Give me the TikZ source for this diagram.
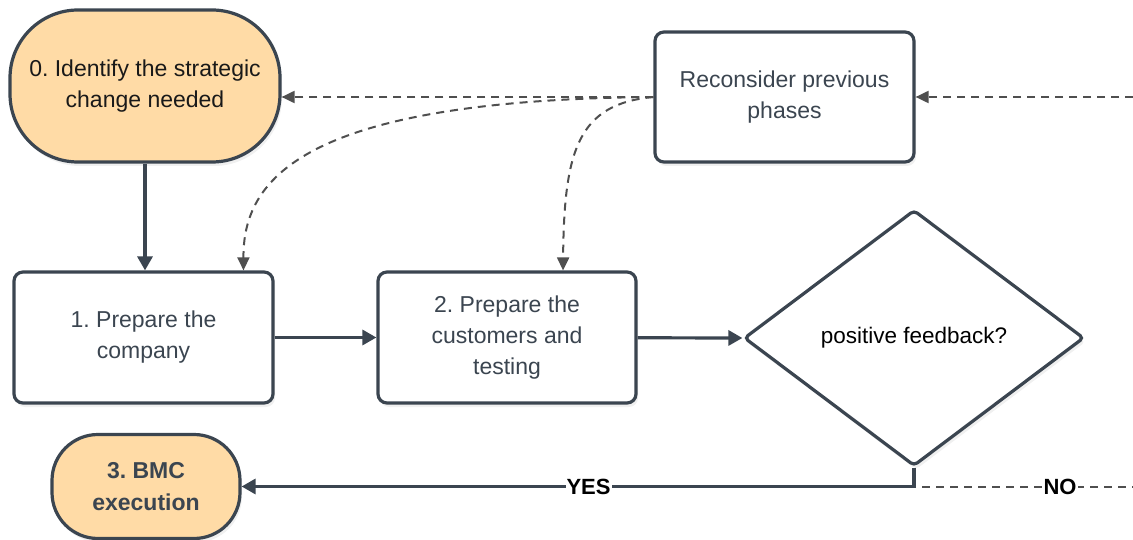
\documentclass[tikz,border=0pt]{standalone}
\usepackage{fontspec}
\setmainfont{Liberation Sans}
\usetikzlibrary{arrows.meta,shapes.geometric,shadows}
\definecolor{edgec}{HTML}{3B4550}
\definecolor{peach}{HTML}{FFDBA6}
\definecolor{dashc}{HTML}{4F4F4F}
\definecolor{txtc}{HTML}{3B4550}
\begin{document}
\begin{tikzpicture}[x=1pt,y=-1pt,
  base/.style={draw=edgec, line width=3.2pt, align=center, inner sep=0pt,
    font=\fontsize{23}{31}\selectfont,
    drop shadow={opacity=0.12, shadow xshift=2pt, shadow yshift=-4pt}},
  procbox/.style={base, fill=white, text=txtc, rounded corners=9pt},
  termbox/.style={base, fill=peach, text=black!90},
  decbox/.style={base, diamond, fill=white, text=black, rounded corners=4pt,
    minimum width=340pt, minimum height=256pt, aspect=1.328,
    font=\fontsize{22.5}{30}\selectfont},
  conn/.style={draw=edgec, line width=3.2pt, -{Triangle[length=14pt,width=15pt]}},
  dconn/.style={draw=dashc, line width=2pt, dash pattern=on 8pt off 6pt,
    -{Triangle[length=13pt,width=12pt]}},
  lbl/.style={font=\bfseries\fontsize{22}{24}\selectfont, text=black, fill=white, inner sep=1pt}
]
\useasboundingbox (0,0) rectangle (1133,540);

\node[termbox, minimum width=270pt, minimum height=152pt, rounded corners=68pt] (n0) at (145,86)
  {0.\ Identify the strategic\\change needed};
\node[procbox, minimum width=259pt, minimum height=130pt] (rc) at (784.5,97)
  {Reconsider previous\\phases};
\node[procbox, minimum width=259pt, minimum height=131pt] (n1) at (143.5,337.5)
  {1.\ Prepare the\\company};
\node[procbox, minimum width=258pt, minimum height=131pt] (n2) at (507,337.5)
  {2.\ Prepare the\\customers and\\testing};
\node[decbox] (dia) at (914,338) {positive feedback?};
\node[termbox, font=\bfseries\fontsize{23}{32}\selectfont, text=txtc,
  minimum width=188pt, minimum height=104pt, rounded corners=46pt] (n3) at (146,486.5)
  {3.\ BMC\\execution};

\coordinate (inR) at (1133,97);
\coordinate (noS) at (922,487);
\coordinate (noE) at (1133,487);

\draw[conn] (n0.south) -- (n0.south |- n1.north);
\draw[conn] (n1) -- (n2);
\draw[conn] (n2) -- (dia.west);
\draw[conn] (dia.south) |- node[lbl, pos=0.742] {YES} (n3.east);
\draw[draw=dashc, line width=2pt, dash pattern=on 8pt off 6pt] (noS) -- node[lbl, pos=0.654] {NO} (noE);

\draw[dconn] (inR) -- (rc.east);
\draw[dconn] (rc.west) -- (rc.west -| n0.east);
\draw[dconn] (rc.west) .. controls (300,100) and (243,180) .. ([xshift=100pt]n1.north);
\draw[dconn] (rc.west) .. controls (578,104) and (564,150) .. ([xshift=56pt]n2.north);
\end{tikzpicture}
\end{document}
